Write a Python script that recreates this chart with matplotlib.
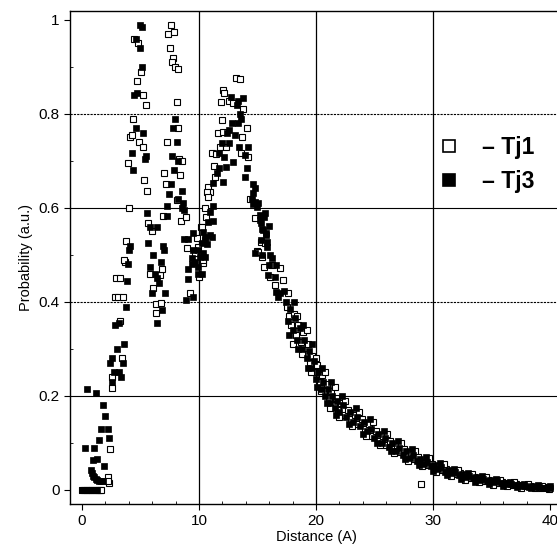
import numpy as np
import matplotlib
matplotlib.use("Agg")
import matplotlib.pyplot as plt
from matplotlib.lines import Line2D
from matplotlib.ticker import MultipleLocator

plt.rcParams['font.family'] = ['Liberation Sans', 'DejaVu Sans']

# open squares (Tj1) as (distance, probability)
tj1_rise = [
    (0.0, 0.0), (0.2, 0.0), (0.4, 0.0), (0.6, 0.0), (0.8, 0.0), (1.0, 0.0), (1.2, 0.0),
    (1.35, 0.0), (1.5, 0.0), (1.6, 0.0), (2.2, 0.028), (2.3, 0.015), (2.25, 0.02),
    (2.4, 0.088), (2.6, 0.217), (2.6, 0.24), (3.4, 0.28), (3.25, 0.36), (2.8, 0.41),
    (3.1, 0.41), (3.5, 0.41), (2.9, 0.45), (3.25, 0.45), (3.7, 0.485), (3.6, 0.49),
    (3.8, 0.53), (4.0, 0.60), (3.95, 0.695), (4.1, 0.75), (4.25, 0.755), (4.35, 0.79),
    (4.9, 0.74), (5.2, 0.73), (4.7, 0.87), (5.05, 0.89), (5.2, 0.84), (5.45, 0.82),
    (4.4, 0.96), (4.8, 0.95), (5.3, 0.66), (5.55, 0.636), (5.65, 0.568), (6.0, 0.55),
    (6.1, 0.43), (6.3, 0.395), (6.75, 0.398), (6.3, 0.377), (6.65, 0.457), (6.85, 0.47),
    (5.8, 0.46),
]
tj1_peak2 = [
    (7.6, 0.99), (7.35, 0.97), (7.9, 0.975), (7.5, 0.94), (7.8, 0.92), (7.7, 0.91),
    (7.95, 0.90), (8.2, 0.895), (8.1, 0.825), (8.2, 0.77), (7.25, 0.74), (8.3, 0.705),
    (7.0, 0.675), (8.4, 0.67), (7.2, 0.65), (8.1, 0.617), (6.9, 0.583), (8.45, 0.572),
    (8.9, 0.58), (8.95, 0.515), (10.2, 0.56), (9.9, 0.517), (10.35, 0.483), (10.0, 0.453),
    (9.2, 0.42), (9.65, 0.504), (9.8, 0.536), (8.55, 0.70), (10.3, 0.49),
]
tj1_peak3 = [
    (10.8, 0.645), (10.95, 0.634), (10.7, 0.634), (10.8, 0.623), (11.1, 0.717),
    (11.45, 0.715), (11.3, 0.69), (11.4, 0.666), (11.8, 0.73), (11.6, 0.76),
    (11.95, 0.787), (12.05, 0.762), (11.9, 0.825), (12.05, 0.85), (12.1, 0.845),
    (12.55, 0.827), (12.9, 0.823), (12.3, 0.73), (13.15, 0.876), (13.5, 0.875),
    (13.75, 0.81), (14.1, 0.77), (13.7, 0.75), (13.6, 0.717), (14.2, 0.709),
    (14.35, 0.619), (14.8, 0.579), (15.3, 0.528), (14.95, 0.509), (15.4, 0.496),
    (15.55, 0.474), (15.05, 0.506), (15.65, 0.525), (16.25, 0.479), (16.9, 0.472),
    (16.1, 0.453), (17.2, 0.447), (16.5, 0.436), (10.25, 0.56), (10.5, 0.60),
    (10.6, 0.58),
]
tj1_tail = [
    (17.5, 0.39), (17.7, 0.37), (17.9, 0.35), (18.1, 0.375), (18.3, 0.33), (18.5, 0.35),
    (18.7, 0.315), (18.9, 0.335), (19.1, 0.29), (19.3, 0.31), (19.5, 0.27), (19.7, 0.285),
    (19.9, 0.25), (20.1, 0.265), (20.3, 0.23), (20.5, 0.245), (20.7, 0.21), (20.9, 0.225),
    (21.1, 0.195), (21.3, 0.21), (21.5, 0.18), (21.7, 0.195), (21.9, 0.17), (22.1, 0.185),
    (22.4, 0.16), (22.7, 0.17), (23.0, 0.15), (23.3, 0.16), (23.6, 0.14), (23.9, 0.15),
    (24.2, 0.13), (24.5, 0.14), (24.8, 0.115), (25.1, 0.125), (25.4, 0.105), (25.7, 0.115),
    (26.0, 0.095), (26.3, 0.105), (26.6, 0.088), (26.9, 0.095), (27.2, 0.08), (27.5, 0.086),
    (27.8, 0.072), (28.1, 0.078), (28.4, 0.066), (28.7, 0.07), (29.0, 0.012), (29.0, 0.06),
    (29.3, 0.058), (29.6, 0.052), (29.9, 0.056), (30.2, 0.047), (30.5, 0.05), (30.8, 0.042),
    (31.1, 0.045), (31.4, 0.037), (31.7, 0.04), (32.0, 0.033), (32.3, 0.035), (32.6, 0.029),
    (32.9, 0.031), (33.2, 0.026), (33.5, 0.028), (33.8, 0.023), (34.1, 0.025), (34.4, 0.02),
    (34.7, 0.022), (35.0, 0.017), (35.3, 0.019), (35.6, 0.015), (35.9, 0.016), (36.2, 0.013),
    (36.5, 0.014), (36.8, 0.011), (37.1, 0.012), (37.4, 0.009), (37.7, 0.01), (38.0, 0.008),
    (38.3, 0.008), (38.6, 0.006), (38.9, 0.007), (39.2, 0.005), (39.5, 0.006), (39.8, 0.004),
]
tj1_tail_spread = [
    (17.6, 0.42), (18.0, 0.31), (18.4, 0.37), (18.8, 0.29), (19.2, 0.34), (19.6, 0.25),
    (20.0, 0.28), (20.4, 0.21), (20.8, 0.25), (21.2, 0.175), (21.6, 0.22), (22.0, 0.155),
    (22.5, 0.19), (23.1, 0.135), (23.7, 0.165), (24.3, 0.115), (24.9, 0.145), (25.5, 0.095),
    (26.1, 0.12), (26.7, 0.078), (27.3, 0.10), (27.9, 0.062), (28.5, 0.082), (29.1, 0.05),
    (29.7, 0.068), (30.3, 0.038), (30.9, 0.055), (31.5, 0.03), (32.1, 0.042), (32.7, 0.022),
    (33.3, 0.034), (33.9, 0.016), (34.5, 0.027), (35.1, 0.011), (35.7, 0.021), (36.3, 0.008),
    (36.9, 0.016), (37.5, 0.005), (38.1, 0.012), (38.7, 0.003), (39.3, 0.009), (39.9, 0.002),
]

# filled squares (Tj3)
tj3_rise = [
    (0.0, 0.0), (0.1, 0.0), (0.2, 0.0), (0.3, 0.0), (0.4, 0.0), (0.5, 0.0), (0.6, 0.0),
    (0.7, 0.0), (0.8, 0.0), (0.9, 0.0), (1.0, 0.0), (1.1, 0.0), (1.2, 0.0), (1.3, 0.0),
    (0.25, 0.09), (0.4, 0.215), (0.75, 0.043), (0.85, 0.035), (0.95, 0.064), (0.95, 0.03),
    (1.0, 0.09), (1.2, 0.206), (1.05, 0.027), (1.15, 0.024), (1.3, 0.066), (1.3, 0.022),
    (1.45, 0.106), (1.45, 0.02), (1.6, 0.13), (1.6, 0.018), (1.8, 0.18), (1.8, 0.018),
    (1.9, 0.05), (2.0, 0.157), (2.2, 0.13), (2.3, 0.11), (2.55, 0.23), (2.7, 0.25),
    (3.15, 0.25), (3.3, 0.24), (2.4, 0.27), (2.6, 0.28), (3.5, 0.27), (3.0, 0.30),
    (3.6, 0.31), (2.8, 0.35), (3.2, 0.355), (3.75, 0.39), (3.85, 0.445), (3.9, 0.48),
    (4.0, 0.51), (4.1, 0.52), (4.3, 0.717), (4.35, 0.68), (4.45, 0.84), (4.7, 0.845),
    (4.6, 0.77), (4.6, 0.96), (4.95, 0.99), (5.1, 0.985), (4.95, 0.94), (5.1, 0.90),
    (5.2, 0.76), (5.45, 0.71), (5.4, 0.705), (5.55, 0.59), (5.8, 0.56), (6.4, 0.56),
    (5.65, 0.525), (6.1, 0.50), (5.8, 0.475), (6.2, 0.46), (6.0, 0.42), (6.4, 0.355),
    (6.4, 0.45), (6.6, 0.44), (6.75, 0.485), (6.9, 0.52), (7.0, 0.51), (7.1, 0.42),
    (6.85, 0.383),
]
tj3_peak2 = [
    (7.25, 0.605), (7.25, 0.583), (7.45, 0.63), (7.6, 0.65), (7.7, 0.71), (7.75, 0.77),
    (7.85, 0.68), (7.95, 0.79), (8.1, 0.74), (8.2, 0.70), (8.2, 0.62), (8.55, 0.635),
    (8.6, 0.61), (8.55, 0.60), (8.7, 0.595), (8.7, 0.534), (9.05, 0.534), (9.5, 0.547),
    (9.05, 0.47), (9.05, 0.449), (9.4, 0.493), (9.4, 0.48), (9.5, 0.51), (9.65, 0.485),
    (9.9, 0.51), (9.9, 0.475), (9.9, 0.46), (10.1, 0.495), (10.25, 0.525), (10.25, 0.46),
    (10.5, 0.538), (10.7, 0.523), (9.5, 0.41), (8.9, 0.405),
]
tj3_peak3 = [
    (12.7, 0.836), (13.75, 0.834), (13.35, 0.827), (13.25, 0.82), (13.5, 0.80),
    (13.6, 0.79), (12.8, 0.78), (13.35, 0.78), (12.55, 0.766), (12.4, 0.76), (13.1, 0.755),
    (11.95, 0.738), (12.55, 0.738), (14.2, 0.73), (13.4, 0.73), (11.7, 0.717),
    (12.15, 0.709), (13.9, 0.713), (12.9, 0.698), (11.7, 0.685), (12.3, 0.687),
    (11.55, 0.674), (14.1, 0.685), (13.9, 0.666), (12.05, 0.655), (11.2, 0.653),
    (14.6, 0.651), (14.8, 0.643), (14.6, 0.632), (14.5, 0.62), (14.8, 0.613), (15.0, 0.61),
    (14.6, 0.608), (14.95, 0.602), (11.2, 0.604), (10.95, 0.592), (10.8, 0.57),
    (11.2, 0.572), (10.35, 0.549), (10.95, 0.543), (10.5, 0.532), (10.35, 0.504),
    (10.5, 0.496), (11.1, 0.538), (15.2, 0.585), (15.3, 0.568), (15.45, 0.553),
    (15.7, 0.547), (15.3, 0.532), (15.8, 0.528), (14.8, 0.504), (15.4, 0.5), (15.65, 0.589),
    (15.55, 0.581), (15.2, 0.574), (15.4, 0.555), (16.0, 0.562), (15.7, 0.543),
    (15.8, 0.517), (16.05, 0.5), (16.25, 0.494), (16.0, 0.479), (16.6, 0.479), (15.9, 0.457),
    (16.5, 0.453), (16.6, 0.421), (16.9, 0.419), (17.25, 0.423), (16.75, 0.41),
]
tj3_tail = [
    (17.4, 0.40), (17.6, 0.36), (17.8, 0.385), (18.0, 0.34), (18.2, 0.365), (18.4, 0.32),
    (18.6, 0.345), (18.8, 0.30), (19.0, 0.32), (19.2, 0.28), (19.4, 0.295), (19.6, 0.26),
    (19.8, 0.275), (20.0, 0.235), (20.2, 0.25), (20.4, 0.215), (20.6, 0.23), (20.8, 0.20),
    (21.0, 0.215), (21.2, 0.185), (21.4, 0.20), (21.6, 0.175), (21.8, 0.19), (22.0, 0.165),
    (22.3, 0.18), (22.6, 0.155), (22.9, 0.165), (23.2, 0.145), (23.5, 0.155), (23.8, 0.135),
    (24.1, 0.145), (24.4, 0.125), (24.7, 0.13), (25.0, 0.11), (25.3, 0.12), (25.6, 0.10),
    (25.9, 0.11), (26.2, 0.092), (26.5, 0.10), (26.8, 0.083), (27.1, 0.09), (27.4, 0.075),
    (27.7, 0.082), (28.0, 0.068), (28.3, 0.074), (28.6, 0.062), (28.9, 0.066), (29.2, 0.055),
    (29.5, 0.06), (29.8, 0.05), (30.1, 0.054), (30.4, 0.044), (30.7, 0.048), (31.0, 0.039),
    (31.3, 0.043), (31.6, 0.035), (31.9, 0.038), (32.2, 0.031), (32.5, 0.034), (32.8, 0.028),
    (33.1, 0.030), (33.4, 0.025), (33.7, 0.027), (34.0, 0.021), (34.3, 0.024), (34.6, 0.019),
    (34.9, 0.021), (35.2, 0.016), (35.5, 0.018), (35.8, 0.014), (36.1, 0.015), (36.4, 0.012),
    (36.7, 0.013), (37.0, 0.010), (37.3, 0.011), (37.6, 0.008), (37.9, 0.009), (38.2, 0.007),
    (38.5, 0.008), (38.8, 0.006), (39.1, 0.006), (39.4, 0.005), (39.7, 0.005), (40.0, 0.004),
]
tj3_tail_spread = [
    (17.7, 0.33), (18.1, 0.40), (18.5, 0.30), (18.9, 0.35), (19.3, 0.26), (19.7, 0.31),
    (20.1, 0.22), (20.5, 0.26), (20.9, 0.185), (21.3, 0.23), (21.7, 0.16), (22.2, 0.20),
    (22.8, 0.14), (23.4, 0.175), (24.0, 0.12), (24.6, 0.15), (25.2, 0.10), (25.8, 0.125),
    (26.4, 0.082), (27.0, 0.105), (27.6, 0.066), (28.2, 0.086), (28.8, 0.052), (29.4, 0.07),
    (30.0, 0.04), (30.6, 0.058), (31.2, 0.032), (31.8, 0.045), (32.4, 0.024), (33.0, 0.036),
    (33.6, 0.017), (34.2, 0.029), (34.8, 0.012), (35.4, 0.023), (36.0, 0.009), (36.6, 0.017),
    (37.2, 0.006), (37.8, 0.013), (38.4, 0.004), (39.0, 0.01), (39.6, 0.003), (40.0, 0.008),
]

x_ticks = [0, 10, 20, 30, 40]
y_ticks = [0, 0.2, 0.4, 0.6, 0.8, 1]
y_ticklabels = ['0', '0.2', '0.4', '0.6', '0.8', '1']

tj1 = np.array(tj1_rise + tj1_peak2 + tj1_peak3 + tj1_tail + tj1_tail_spread)
tj3 = np.array(tj3_rise + tj3_peak2 + tj3_peak3 + tj3_tail + tj3_tail_spread)

fig = plt.figure(figsize=(5.57, 5.44), dpi=100)
ax = fig.add_axes([70 / 557, 40 / 544, 492 / 557, 493 / 544])

# grid lines
for gx in [10, 20, 30]:
    ax.axvline(gx, color='black', lw=0.9, zorder=1)
for gy, ls in [(0.2, '-'), (0.4, (0, (2, 1))), (0.6, '-'), (0.8, (0, (2, 1)))]:
    ax.axhline(gy, color='black', lw=0.8, ls=ls, zorder=1)

ax.plot(tj1[:, 0], tj1[:, 1], 's', ms=4.6, mfc='white', mec='black', mew=0.8, zorder=2)
ax.plot(tj3[:, 0], tj3[:, 1], 's', ms=4.6, mfc='black', mec='black', mew=0.5, zorder=3)

ax.set_xlim(-1.03, 41.03)
ax.set_ylim(-0.03, 1.019)
ax.set_xticks(x_ticks)
ax.set_yticks(y_ticks)
ax.set_yticklabels(y_ticklabels)
ax.xaxis.set_minor_locator(MultipleLocator(2))
ax.yaxis.set_minor_locator(MultipleLocator(0.1))
ax.tick_params(axis='both', which='major', labelsize=11, length=4, width=0.8, direction='out')
ax.tick_params(axis='both', which='minor', length=2.5, width=0.6, direction='in')
ax.tick_params(top=False, right=False, which='both')
for s in ax.spines.values():
    s.set_linewidth(1.0)

ax.set_xlabel('Distance (A)', fontsize=10.5, labelpad=1)
ax.set_ylabel('Probability (a.u.)', fontsize=10.5, labelpad=4)

handles = [
    Line2D([], [], ls='none', marker='s', ms=8.5, mfc='white', mec='black', mew=1.2),
    Line2D([], [], ls='none', marker='s', ms=8.5, mfc='black', mec='black', mew=1.2),
]
leg = ax.legend(handles, ['\u2013 Tj1', '\u2013 Tj3'], loc='upper left',
                bbox_to_anchor=(0.727, 0.77), frameon=False, borderpad=0,
                handlelength=0.9, handletextpad=0.95, labelspacing=0.5,
                prop={'size': 16.5, 'weight': 'bold'})

fig.savefig('out.png', dpi=100)
